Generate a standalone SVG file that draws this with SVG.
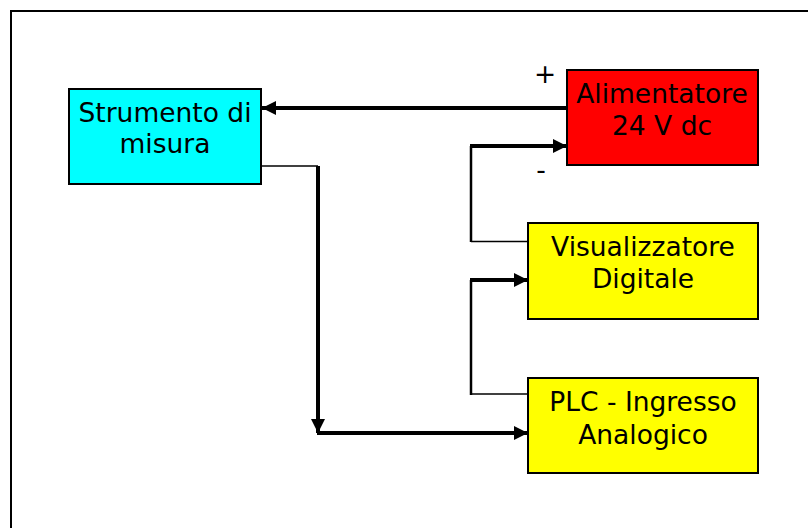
<svg xmlns="http://www.w3.org/2000/svg" width="809" height="528" viewBox="0 0 809 528">
<style>
.box{stroke:#000;stroke-width:2}
.lbl{font-family:"DejaVu Sans",Verdana,sans-serif;font-size:26.5px;fill:#000;text-anchor:middle}
.thick{fill:none;stroke:#000;stroke-width:4}
.mid{fill:none;stroke:#000;stroke-width:2.5}
.thin{fill:none;stroke:#000;stroke-width:1.5}
</style>
<defs>
<marker id="arr" viewBox="0 0 14 14" refX="14" refY="7" markerWidth="14" markerHeight="14" markerUnits="userSpaceOnUse" orient="auto">
<path d="M0,0 L14,7 L0,14 z" fill="#000"/>
</marker>
</defs>
<rect width="809" height="528" fill="#fff"/>
<path d="M11,528 V11 H808" fill="none" stroke="#000" stroke-width="2"/>
<g id="strumento">
<rect class="box" x="69" y="89" width="192" height="95" fill="#00ffff"/>
<text class="lbl" x="165" y="122">Strumento di</text>
<text class="lbl" x="165" y="153">misura</text>
</g>
<g id="alimentatore">
<rect class="box" x="567" y="70" width="191" height="95" fill="#ff0000"/>
<text class="lbl" x="662" y="103">Alimentatore</text>
<text class="lbl" x="662" y="135">24 V dc</text>
</g>
<g id="visualizzatore">
<rect class="box" x="528" y="223" width="230" height="96" fill="#ffff00"/>
<text class="lbl" x="643" y="256">Visualizzatore</text>
<text class="lbl" x="643" y="288">Digitale</text>
</g>
<g id="plc">
<rect class="box" x="528" y="378" width="230" height="95" fill="#ffff00"/>
<text class="lbl" x="643" y="411">PLC - Ingresso</text>
<text class="lbl" x="643" y="444">Analogico</text>
</g>
<g id="labels">
<text class="lbl" x="545" y="83">+</text>
<text class="lbl" x="541" y="179">-</text>
</g>
<g id="connectors">
<path class="thick" d="M567,108 H262" marker-end="url(#arr)"/>
<path class="thin" d="M261,166 H318"/>
<path class="thick" d="M318,166 V433" marker-end="url(#arr)"/>
<path class="thick" d="M317,433 H528" marker-end="url(#arr)"/>
<path class="thin" d="M528,241.5 H471"/>
<path class="mid" d="M471,242 V146"/>
<path class="thick" d="M470,146 H567" marker-end="url(#arr)"/>
<path class="thin" d="M528,394 H471"/>
<path class="mid" d="M471,395 V280"/>
<path class="thick" d="M470,280 H528" marker-end="url(#arr)"/>
</g>
</svg>
